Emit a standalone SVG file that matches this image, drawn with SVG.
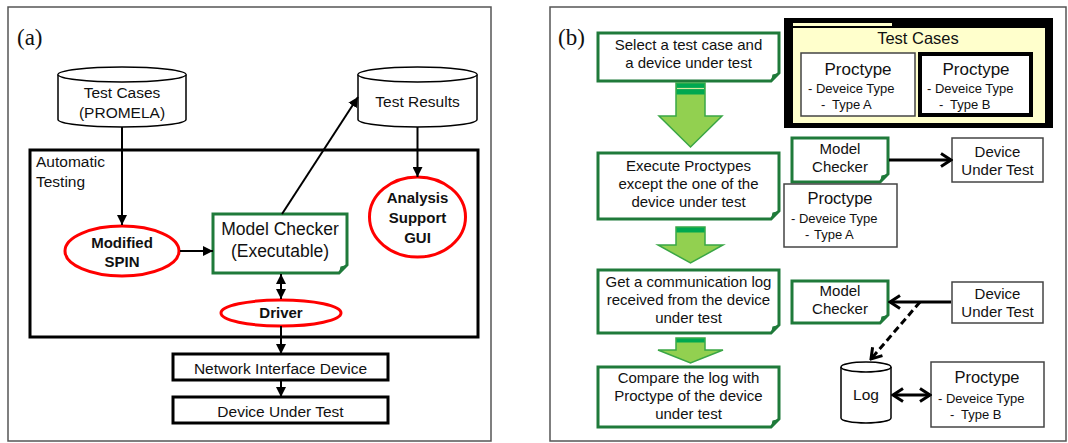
<svg xmlns="http://www.w3.org/2000/svg" width="1068" height="443" viewBox="0 0 1068 443">
<style>
text{font-family:"Liberation Sans",Arial,sans-serif;fill:#111}
.lbl{font-family:"Liberation Serif","Times New Roman",serif;font-size:23px}
.c{text-anchor:middle}
.f15{font-size:15px}
.f155{font-size:15.5px}
.b{font-weight:bold}
.sm{font-size:13px}
.pt{font-size:17px}
.panel{fill:#fff;stroke:#555;stroke-width:1.5}
.cyl{fill:#fff;stroke:#000;stroke-width:1.5}
.red{fill:#fff;stroke:#f00;stroke-width:3}
.note{fill:#fff;stroke:#1f7a3a;stroke-width:3;stroke-linejoin:miter}
.fold{fill:#1f7a3a}
.box{fill:#fff;stroke:#000;stroke-width:3}
.thin{fill:#fff;stroke:#444;stroke-width:1.5}
.blk{fill:#92d050;stroke:#3aa645;stroke-width:1.5}
.band{fill:#00a850}
.ln{fill:none;stroke:#000;stroke-width:2}
.tk{fill:none;stroke:#000;stroke-width:3}
</style>
<defs>
<marker id="tri" viewBox="0 0 10 10" refX="10" refY="5" markerWidth="10" markerHeight="10" markerUnits="userSpaceOnUse" orient="auto-start-reverse">
<path d="M0,0 L10,5 L0,10 z" fill="#000"/>
</marker>
<marker id="chev" viewBox="0 0 14 16" refX="12" refY="8" markerWidth="14" markerHeight="16" markerUnits="userSpaceOnUse" orient="auto-start-reverse">
<path d="M2,1.5 L12,8 L2,14.5" fill="none" stroke="#000" stroke-width="3"/>
</marker>
</defs>

<rect class="panel" x="8" y="7" width="483" height="434"/>
<rect class="panel" x="550" y="7" width="516" height="434"/>
<text class="lbl" x="17" y="45">(a)</text>
<text class="lbl" x="558" y="45">(b)</text>

<g id="auto-testing">
<rect x="30" y="150" width="448" height="187" fill="none" stroke="#000" stroke-width="3"/>
<text class="f155" x="36" y="167">Automatic</text>
<text class="f155" x="36" y="187">Testing</text>
</g>

<g id="test-cases-a">
<path class="cyl" d="M58,74.5 A64,7.5 0 0 1 186,74.5 V119.5 A64,7.5 0 0 1 58,119.5 Z"/>
<path class="cyl" fill="none" d="M58,74.5 A64,7.5 0 0 0 186,74.5"/>
<text class="c f155" x="122" y="98">Test Cases</text>
<text class="c f155" x="122" y="118">(PROMELA)</text>
</g>

<g id="test-results">
<path class="cyl" d="M358,74.5 A59.5,7.5 0 0 1 477,74.5 V119.5 A59.5,7.5 0 0 1 358,119.5 Z"/>
<path class="cyl" fill="none" d="M358,74.5 A59.5,7.5 0 0 0 477,74.5"/>
<text class="c f155" x="417.5" y="107">Test Results</text>
</g>

<g id="modified-spin">
<ellipse class="red" cx="122" cy="251" rx="57" ry="25"/>
<text class="c f15 b" x="122" y="248">Modified</text>
<text class="c f15 b" x="122" y="267">SPIN</text>
</g>

<g id="model-checker-a">
<path class="note" stroke-width="2.5" d="M213,214 H347 V265 L339,273 H213 Z"/>
<path class="fold" d="M347,265 L339,273 L340.5,266.5 Z"/>
<text class="c" font-size="17.5" x="280" y="235">Model Checker</text>
<text class="c" font-size="17.5" x="280" y="257">(Executable)</text>
</g>

<g id="analysis-gui">
<ellipse class="red" cx="417.5" cy="217" rx="48" ry="40"/>
<text class="c f15 b" x="417.5" y="203">Analysis</text>
<text class="c f15 b" x="417.5" y="223">Support</text>
<text class="c f15 b" x="417.5" y="243">GUI</text>
</g>

<g id="driver">
<ellipse class="red" cx="281" cy="313" rx="60" ry="13"/>
<text class="c f15 b" x="281" y="318">Driver</text>
</g>

<g id="nid">
<rect class="box" x="173" y="354" width="215" height="26"/>
<text class="c f155" x="280.5" y="374">Network Interface Device</text>
</g>

<g id="dut-a">
<rect class="box" x="173" y="397" width="215" height="26"/>
<text class="c f155" x="280.5" y="417">Device Under Test</text>
</g>

<!-- panel b -->
<g id="step1">
<path class="note" d="M598,33 H779 V73 L771,81 H598 Z"/>
<path class="fold" d="M779,73 L771,81 L772.5,74.5 Z"/>
<text class="c f15" x="688.5" y="50">Select a test case and</text>
<text class="c f15" x="688.5" y="68">a device under test</text>
</g>

<g id="step2">
<path class="note" d="M598,153 H779 V211 L771,219 H598 Z"/>
<path class="fold" d="M779,211 L771,219 L772.5,212.5 Z"/>
<text class="c f15" x="688.5" y="171">Execute Proctypes</text>
<text class="c f15" x="688.5" y="189">except the one of the</text>
<text class="c f15" x="688.5" y="207">device under test</text>
</g>

<g id="step3">
<path class="note" d="M598,270 H779 V325 L771,333 H598 Z"/>
<path class="fold" d="M779,325 L771,333 L772.5,326.5 Z"/>
<text class="c f15" x="688.5" y="287">Get a communication log</text>
<text class="c f15" x="688.5" y="305">received from the device</text>
<text class="c f15" x="688.5" y="323">under test</text>
</g>

<g id="step4">
<path class="note" d="M598,367 H779 V419 L771,427 H598 Z"/>
<path class="fold" d="M779,419 L771,427 L772.5,420.5 Z"/>
<text class="c f15" x="688.5" y="383">Compare the log with</text>
<text class="c f15" x="688.5" y="401">Proctype of the device</text>
<text class="c f15" x="688.5" y="419">under test</text>
</g>

<g id="flow-arrows">
<path class="blk" d="M676,83 H705 V116 H722 L690.5,147 L659,116 H676 Z"/>
<rect class="band" x="676.5" y="83.5" width="28" height="11"/>
<line x1="677" y1="88.5" x2="704" y2="88.5" stroke="#d6ea9c" stroke-width="1.2"/>
<path class="blk" d="M676,227 H705 V245 H723 L690.5,263 L658,245 H676 Z"/>
<rect class="band" x="676.5" y="227.5" width="28" height="5"/>
<path class="blk" d="M676,338 H705 V350 H723 L690.5,363 L658,350 H676 Z"/>
<rect class="band" x="676.5" y="338.5" width="28" height="4"/>
</g>

<g id="test-cases-b">
<rect x="784" y="18" width="269" height="110" fill="#000"/>
<rect x="793" y="28" width="252" height="95" fill="#ffffcc"/>
<rect x="793" y="23" width="99" height="3" fill="#ffffcc"/>
<text class="c" font-size="16.5" x="918" y="44">Test Cases</text>
<g id="proctype-a-tc">
<rect class="thin" stroke="#777" x="801" y="53" width="114" height="63"/>
<text class="c pt" x="858" y="75">Proctype</text>
<text class="sm" x="808" y="93">- Deveice Type</text>
<text class="sm" x="821" y="109">-</text>
<text class="sm" x="832" y="109">Type A</text>
</g>
<g id="proctype-b-tc">
<rect x="920" y="54" width="111" height="61" fill="#fff" stroke="#000" stroke-width="4"/>
<text class="c pt" x="976" y="75">Proctype</text>
<text class="sm" x="927" y="93">- Deveice Type</text>
<text class="sm" x="939" y="109">-</text>
<text class="sm" x="950" y="109">Type B</text>
</g>
</g>

<g id="mc-2">
<path class="note" d="M792,138 H888 V174 L880,182 H792 Z"/>
<path class="fold" d="M888,174 L880,182 L881.5,175.5 Z"/>
<text class="c f15" x="840" y="154">Model</text>
<text class="c f15" x="840" y="172">Checker</text>
</g>
<g id="dut-2">
<rect class="thin" x="952" y="138" width="91" height="44"/>
<text class="c f15" x="997.5" y="157">Device</text>
<text class="c f15" x="997.5" y="175">Under Test</text>
</g>
<g id="proctype-a-2">
<rect class="thin" x="784" y="184" width="113" height="63"/>
<text class="c" font-size="16.5" x="840" y="204">Proctype</text>
<text class="sm" x="791" y="223">- Deveice Type</text>
<text class="sm" x="805" y="239">-</text>
<text class="sm" x="814" y="239">Type A</text>
</g>

<g id="mc-3">
<path class="note" d="M792,281 H888 V315 L880,323 H792 Z"/>
<path class="fold" d="M888,315 L880,323 L881.5,316.5 Z"/>
<text class="c f15" x="840" y="296">Model</text>
<text class="c f15" x="840" y="314">Checker</text>
</g>
<g id="dut-3">
<rect class="thin" x="952" y="282" width="91" height="41"/>
<text class="c f15" x="997.5" y="299">Device</text>
<text class="c f15" x="997.5" y="317">Under Test</text>
</g>
<g id="log">
<path class="cyl" d="M841,367 A25,5 0 0 1 891,367 V418 A25,5 0 0 1 841,418 Z"/>
<path class="cyl" fill="none" d="M841,367 A25,5 0 0 0 891,367"/>
<text class="c" font-size="15.5" x="866" y="400">Log</text>
</g>
<g id="proctype-b-3">
<rect class="thin" x="931" y="362" width="113" height="65"/>
<text class="c" font-size="16.5" x="987" y="383">Proctype</text>
<text class="sm" x="938" y="403">- Deveice Type</text>
<text class="sm" x="950" y="419">-</text>
<text class="sm" x="961" y="419">Type B</text>
</g>

<g id="connectors">
<line class="ln" x1="122" y1="127" x2="122" y2="225" marker-end="url(#tri)"/>
<line class="ln" x1="282" y1="214" x2="358" y2="97" marker-end="url(#tri)"/>
<line class="ln" x1="417.5" y1="127" x2="417.5" y2="177" marker-end="url(#tri)"/>
<line class="ln" x1="180" y1="251" x2="213" y2="251" marker-end="url(#tri)"/>
<line class="ln" x1="281" y1="274" x2="281" y2="299" marker-start="url(#tri)" marker-end="url(#tri)"/>
<line class="ln" x1="281" y1="326" x2="281" y2="354" marker-end="url(#tri)"/>
<line class="ln" x1="281" y1="380" x2="281" y2="397" marker-end="url(#tri)"/>
<line class="tk" x1="889" y1="160" x2="951" y2="160" marker-end="url(#chev)"/>
<line class="tk" x1="951" y1="302" x2="890" y2="302" marker-end="url(#chev)"/>
<line class="tk" x1="920" y1="302" x2="871" y2="359" stroke-dasharray="7,4" marker-end="url(#chev)"/>
<line class="tk" x1="893" y1="395" x2="930" y2="395" marker-start="url(#chev)" marker-end="url(#chev)"/>
</g>
</svg>
